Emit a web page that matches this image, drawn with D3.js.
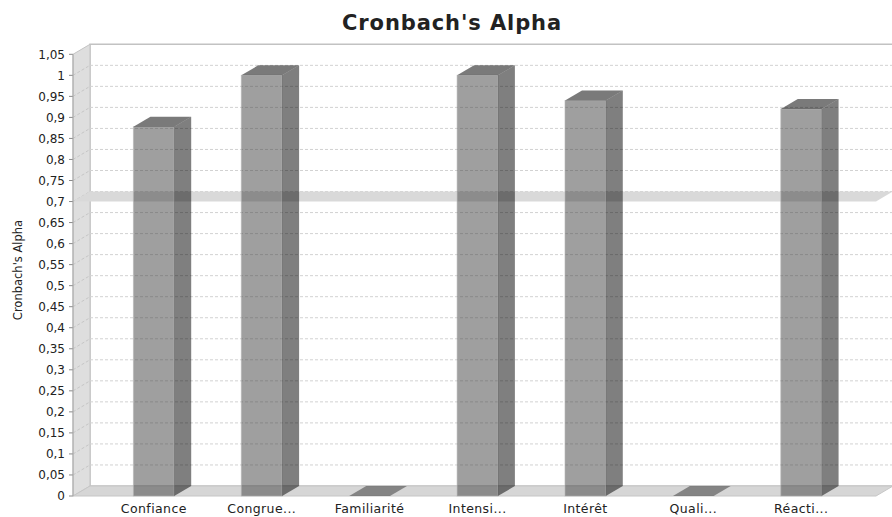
<!DOCTYPE html>
<html>
<head>
<meta charset="utf-8">
<script src="https://cdn.jsdelivr.net/npm/d3@7"></script>
<style>
  html, body { margin: 0; padding: 0; background: #fff; }
  svg { display: block; }
  text { font-family: "DejaVu Sans", "Lucida Grande", sans-serif; fill: #222; }
</style>
</head>
<body>
<svg id="chart" width="892" height="517"></svg>
<script>
// Reliability per construct
const categories = ["Confiance", "Congrue...", "Familiarité", "Intensi...", "Intérêt", "Quali...", "Réacti..."];
const alphaValues = [0.878, 1.0, 0, 1.0, 0.94, 0, 0.92];
const yTicks = [0, 0.05, 0.1, 0.15, 0.2, 0.25, 0.3, 0.35, 0.4, 0.45, 0.5, 0.55, 0.6, 0.65, 0.7, 0.75, 0.8, 0.85, 0.9, 0.95, 1, 1.05];
const thresholdValue = 0.7;
const chartTitle = "Cronbach's Alpha";
const yAxisTitle = "Cronbach's Alpha";

const svg = d3.select("#chart");
const W = 892, H = 517;

// 3D plot frame: front face and depth offset
const front = { left: 73, right: 876, top: 54.3, bottom: 496 };
const dx = 17, dy = 10;

const y = d3.scaleLinear().domain([0, 1.05]).range([front.bottom, front.top]);
const x = d3.scaleBand().domain(categories).range([73, 882])
  .paddingInner(0.622).paddingOuter(0.56);
const bw = x.bandwidth();

const fmt = v => d3.format("")(+v.toFixed(2)).replace(".", ",");
const poly = pts => "M" + pts.map(p => p.join(",")).join("L") + "Z";

// Title
svg.append("text")
  .attr("x", 452).attr("y", 30)
  .attr("text-anchor", "middle")
  .style("font-size", "21px").style("font-weight", "bold")
  .style("letter-spacing", "0.9px")
  .text(chartTitle);

const g = svg.append("g");

// Back wall
g.append("path")
  .attr("d", poly([[front.left + dx, front.top - dy], [front.right + dx, front.top - dy],
                   [front.right + dx, front.bottom - dy], [front.left + dx, front.bottom - dy]]))
  .attr("fill", "#fff").attr("stroke", "#c2c2c2").attr("stroke-width", 1.5);

// Left wall
g.append("path")
  .attr("d", poly([[front.left, front.top], [front.left + dx, front.top - dy],
                   [front.left + dx, front.bottom - dy], [front.left, front.bottom]]))
  .attr("fill", "#dedede").attr("stroke", "#c4c4c4").attr("stroke-width", 1);

// Floor
g.append("path")
  .attr("d", poly([[front.left, front.bottom], [front.left + dx, front.bottom - dy],
                   [front.right + dx, front.bottom - dy], [front.right, front.bottom]]))
  .attr("fill", "#d6d6d6").attr("stroke", "#c6c6c6").attr("stroke-width", 1);

// Gridlines: along the back wall and slanted across the left wall
const grid = g.append("g");
yTicks.filter(t => t > 0 && t < 1.05).forEach(t => {
  const yy = y(t);
  grid.append("line")
    .attr("x1", front.left + dx).attr("x2", front.right + dx)
    .attr("y1", yy - dy).attr("y2", yy - dy)
    .attr("stroke", "#d2d2d2").attr("stroke-width", 1).attr("stroke-dasharray", "3,2");
  grid.append("line")
    .attr("x1", front.left).attr("x2", front.left + dx)
    .attr("y1", yy).attr("y2", yy - dy)
    .attr("stroke", "#c6c6c6").attr("stroke-width", 1).attr("stroke-dasharray", "3,2");
});

// Threshold marker plane at alpha = 0.7
const ym = y(thresholdValue);
g.append("path")
  .attr("d", poly([[front.left, ym], [front.left + dx, ym - dy],
                   [front.right + dx, ym - dy], [front.right, ym]]))
  .attr("fill", "#d9d9d9");

// Bars
const bars = g.append("g").selectAll("g").data(categories.map((c, i) => ({ c, v: alphaValues[i] })))
  .join("g");

bars.each(function(d) {
  const b = d3.select(this);
  const x0 = x(d.c), x1 = x0 + bw, yt = y(d.v), yb = y(0);
  if (d.v > 0) {
    b.append("rect")
      .attr("x", x0).attr("y", yt).attr("width", bw).attr("height", yb - yt)
      .attr("fill", "#404040").attr("fill-opacity", 0.5)
      .attr("stroke", "#b4b4b4").attr("stroke-opacity", 0.6).attr("stroke-width", 1);
    b.append("path")
      .attr("d", poly([[x1, yt], [x1 + dx, yt - dy], [x1 + dx, yb - dy], [x1, yb]]))
      .attr("fill", "#000").attr("fill-opacity", 0.5);
  }
  b.append("path")
    .attr("d", poly([[x0, yt], [x0 + dx, yt - dy], [x1 + dx, yt - dy], [x1, yt]]))
    .attr("fill", "#000").attr("fill-opacity", d.v > 0 ? 0.52 : 0.38);
});

// Value axis: ticks and labels
const yAxis = svg.append("g");
yTicks.forEach(t => {
  const yy = y(t);
  yAxis.append("line")
    .attr("x1", 69).attr("x2", front.left).attr("y1", yy).attr("y2", yy)
    .attr("stroke", "#8a8a8a").attr("stroke-width", 1);
  yAxis.append("text")
    .attr("x", 65).attr("y", yy).attr("dy", "0.36em")
    .attr("text-anchor", "end")
    .style("font-size", "12px")
    .text(fmt(t));
});
yAxis.append("line")
  .attr("x1", front.left).attr("x2", front.left)
  .attr("y1", front.top).attr("y2", front.bottom)
  .attr("stroke", "#a8a8a8").attr("stroke-width", 1);

svg.append("text")
  .attr("transform", "translate(22,270) rotate(-90)")
  .attr("text-anchor", "middle")
  .style("font-size", "11.5px")
  .text(yAxisTitle);

// Category labels
svg.append("g").selectAll("text").data(categories).join("text")
  .attr("x", d => x(d) + bw / 2)
  .attr("y", 513)
  .attr("text-anchor", "middle")
  .style("font-size", "12.5px")
  .style("letter-spacing", "0.4px")
  .text(d => d);
</script>
</body>
</html>
